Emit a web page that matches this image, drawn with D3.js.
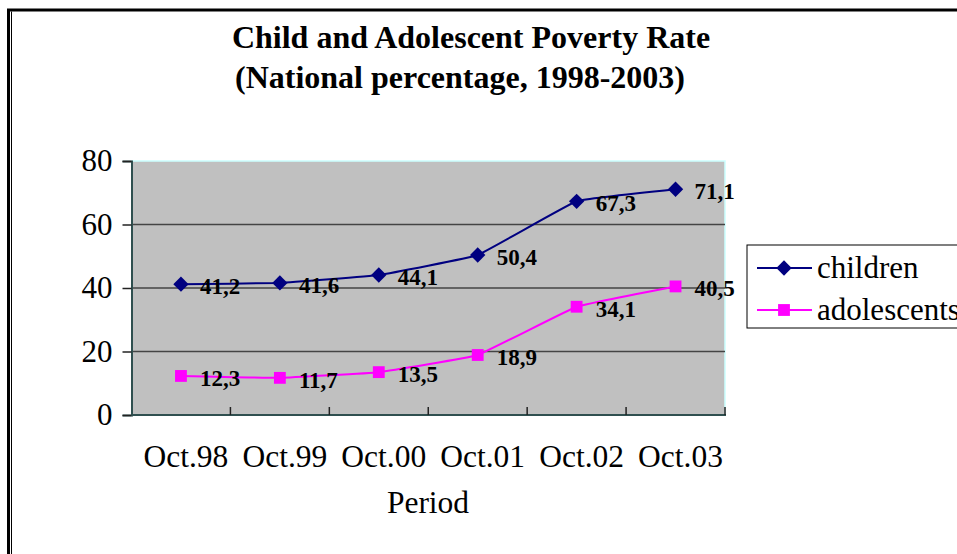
<!DOCTYPE html>
<html>
<head>
<meta charset="utf-8">
<script src="https://cdn.jsdelivr.net/npm/d3@7"></script>
<style>
  body { margin: 0; background: #fff; }
  svg { display: block; font-family: "Liberation Serif", "Times New Roman", serif; }
</style>
</head>
<body>
<svg id="chart" width="957" height="554"></svg>
<script>
var periods = ["Oct.98", "Oct.99", "Oct.00", "Oct.01", "Oct.02", "Oct.03"];
var children = [41.2, 41.6, 44.1, 50.4, 67.3, 71.1];
var adolescents = [12.3, 11.7, 13.5, 18.9, 34.1, 40.5];
var yTicks = [0, 20, 40, 60, 80];
var seriesNames = ["children", "adolescents"];
var seriesColors = ["#000080", "#ff00ff"];

var svg = d3.select("#chart");

// outer frame (runs off the right and bottom of the window)
svg.append("rect")
    .attr("x", 8.5).attr("y", 10)
    .attr("width", 1000).attr("height", 600)
    .attr("fill", "none").attr("stroke", "#000").attr("stroke-width", 3);
svg.append("line")
    .attr("x1", 11.5).attr("y1", 11.5).attr("x2", 11.5).attr("y2", 554)
    .attr("stroke", "#000").attr("stroke-width", 1);

// title
svg.append("text")
    .attr("x", 471).attr("y", 48)
    .attr("text-anchor", "middle")
    .attr("font-size", 32).attr("font-weight", "bold")
    .text("Child and Adolescent Poverty Rate");
svg.append("text")
    .attr("x", 460).attr("y", 88)
    .attr("text-anchor", "middle")
    .attr("font-size", 32).attr("font-weight", "bold")
    .text("(National percentage, 1998-2003)");

var pLeft = 131.5, pRight = 725, pTop = 161, pBottom = 415;

var x = d3.scaleBand().domain(periods).range([pLeft, pRight]);
var y = d3.scaleLinear().domain([0, 80]).range([pBottom, pTop]);

// plot background
svg.append("rect")
    .attr("x", pLeft).attr("y", pTop)
    .attr("width", pRight - pLeft).attr("height", pBottom - pTop)
    .attr("fill", "#c0c0c0");
// light border top/right
svg.append("path")
    .attr("d", "M" + pLeft + "," + pTop + "H" + pRight + "V" + pBottom)
    .attr("fill", "none").attr("stroke", "#ccffff").attr("stroke-width", 1.5);

// gridlines
svg.append("g").selectAll("line")
    .data(yTicks.filter(function(d) { return d > 0 && d < 80; }))
    .enter().append("line")
    .attr("x1", pLeft).attr("x2", pRight)
    .attr("y1", function(d) { return y(d); })
    .attr("y2", function(d) { return y(d); })
    .attr("stroke", "#444").attr("stroke-width", 1.5);

// y axis
var yAxis = svg.append("g")
    .attr("transform", "translate(" + pLeft + ",0)")
    .call(d3.axisLeft(y).tickValues(yTicks).tickSize(9).tickPadding(10));
yAxis.select(".domain").attr("stroke", "#2f4f4f").attr("stroke-width", 2);
yAxis.selectAll(".tick line").attr("stroke", "#222").attr("stroke-width", 1.5);
yAxis.selectAll("text")
    .attr("font-family", "Liberation Serif, serif")
    .attr("font-size", 31).attr("fill", "#000");

// x axis with inside ticks between categories
var xAxis = svg.append("g").attr("transform", "translate(0," + pBottom + ")");
xAxis.append("line")
    .attr("x1", pLeft).attr("x2", pRight + 1)
    .attr("stroke", "#2f4f4f").attr("stroke-width", 2);
xAxis.selectAll(".sep")
    .data(periods)
    .enter().append("line")
    .attr("class", "sep")
    .attr("x1", function(d) { return x(d) + x.step(); })
    .attr("x2", function(d) { return x(d) + x.step(); })
    .attr("y1", 0).attr("y2", -8)
    .attr("stroke", "#222").attr("stroke-width", 1.5);
xAxis.selectAll(".lbl")
    .data(periods)
    .enter().append("text")
    .attr("class", "lbl")
    .attr("x", function(d) { return x(d) + x.bandwidth() / 2 + 5; })
    .attr("y", 52)
    .attr("text-anchor", "middle")
    .attr("font-size", 31.5)
    .text(function(d) { return d; });

svg.append("text")
    .attr("x", 428).attr("y", 513)
    .attr("text-anchor", "middle")
    .attr("font-size", 31.5)
    .text("Period");

// series
var series = [children, adolescents];
var cx = function(i) { return x(periods[i]) + x.bandwidth() / 2; };
var line = d3.line()
    .x(function(d, i) { return cx(i); })
    .y(function(d) { return y(d); })
    .curve(d3.curveCardinal.tension(0.75));

var diamond = d3.symbol().type(d3.symbolDiamond2).size(150);
var square = d3.symbol().type(d3.symbolSquare).size(140);
var shapes = [diamond, square];

series.forEach(function(vals, s) {
  var g = svg.append("g");
  g.append("path")
      .datum(vals)
      .attr("d", line)
      .attr("fill", "none")
      .attr("stroke", seriesColors[s])
      .attr("stroke-width", 2);
  g.selectAll(".m")
      .data(vals)
      .enter().append("path")
      .attr("class", "m")
      .attr("transform", function(d, i) { return "translate(" + cx(i) + "," + y(d) + ")"; })
      .attr("d", shapes[s]())
      .attr("fill", seriesColors[s]);
  g.selectAll(".v")
      .data(vals)
      .enter().append("text")
      .attr("class", "v")
      .attr("x", function(d, i) { return cx(i) + 19; })
      .attr("y", function(d) { return y(d) + 10; })
      .attr("font-size", 23).attr("font-weight", "bold")
      .text(function(d) { return String(d).replace(".", ","); });
});

// legend (clipped at the right edge, like the original)
var legend = svg.append("g").attr("transform", "translate(747,245)");
legend.append("rect")
    .attr("width", 260).attr("height", 83)
    .attr("fill", "#fff").attr("stroke", "#000").attr("stroke-width", 1);
seriesNames.forEach(function(name, s) {
  var ly = 23 + s * 42;
  legend.append("line")
      .attr("x1", 10).attr("x2", 65)
      .attr("y1", ly).attr("y2", ly)
      .attr("stroke", seriesColors[s]).attr("stroke-width", 2);
  legend.append("path")
      .attr("transform", "translate(37," + ly + ")")
      .attr("d", shapes[s]())
      .attr("fill", seriesColors[s]);
  legend.append("text")
      .attr("x", 70).attr("y", ly + 10)
      .attr("font-size", 31)
      .text(name);
});
</script>
</body>
</html>
